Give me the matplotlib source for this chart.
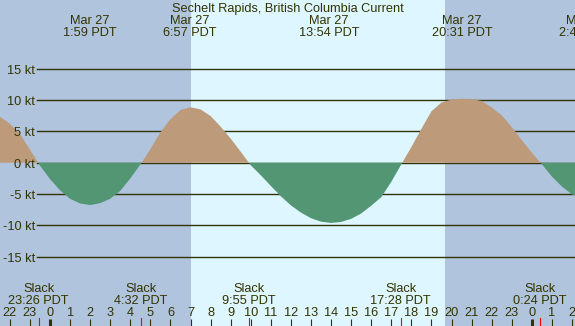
import numpy as np
import matplotlib
matplotlib.use('Agg')
import matplotlib.pyplot as plt
from matplotlib.transforms import blended_transform_factory

plt.rcParams['font.family'] = ['Liberation Sans', 'DejaVu Sans']

# hours after midnight Mar 27 (PDT), read every half hour
hours = [-3.0, -2.5, -2.0, -1.5, -1.0, -0.5, 0.0, 0.5, 1.0, 1.5,
         2.0, 2.5, 3.0, 3.5, 4.0, 4.5, 5.0, 5.5, 6.0, 6.5,
         7.0, 7.5, 8.0, 8.5, 9.0, 9.5, 10.0, 10.5, 11.0, 11.5,
         12.0, 12.5, 13.0, 13.5, 14.0, 14.5, 15.0, 15.5, 16.0, 16.5,
         17.0, 17.5, 18.0, 18.5, 19.0, 19.5, 20.0, 20.5, 21.0, 21.5,
         22.0, 22.5, 23.0, 23.5, 24.0, 24.5, 25.0, 25.5, 26.0, 26.5]
# current speed in knots (+ flood, - ebb)
speed = [8.2, 7.35, 6.2, 4.6, 2.1, -0.45, -2.6, -4.4, -5.75, -6.5,
         -6.75, -6.45, -5.75, -4.5, -2.5, -0.3, 2.15, 4.85, 6.95, 8.4,
         8.84, 8.5, 7.45, 5.75, 3.85, 1.75, -0.4, -2.0, -3.7, -5.35,
         -6.8, -7.95, -8.85, -9.4, -9.6, -9.45, -8.95, -8.1, -6.85, -5.5,
         -3.05, -0.25, 2.5, 5.4, 8.2, 9.6, 10.08, 10.2, 10.15, 9.85,
         8.8, 7.55, 5.7, 3.6, 1.6, -0.25, -2.2, -3.8, -5.05, -5.8]

max_times = [1.983, 6.95, 13.9, 20.517, 26.7]
max_dates = ['Mar 27', 'Mar 27', 'Mar 27', 'Mar 27', 'Mar 28']
max_labels = ['1:59 PDT', '6:57 PDT', '13:54 PDT', '20:31 PDT', '2:42 PDT']

slack_times = [-0.567, 4.533, 9.917, 17.467, 24.4]
slack_labels = ['23:26 PDT', '4:32 PDT', '9:55 PDT', '17:28 PDT', '0:24 PDT']

sunrise, sunset = 7.02, 19.67
grid_levels = [-15, -10, -5, 0, 5, 10, 15]
hour_ticks = list(range(-2, 27))

title = 'Sechelt Rapids, British Columbia Current'

night = '#B0C4DE'
day = '#DDF6FF'
flood = '#BC9A7A'
ebb = '#529673'
ink = '#333300'
fs = 9.2

W, H = 575, 326
fig = plt.figure(figsize=(W / 100, H / 100), dpi=100)
fig.patch.set_facecolor(night)
ax = fig.add_axes([0, 0, 1, 1])
ax.axis('off')
ax.set_xlim(-2.49, 26.15)
ax.set_ylim(-26.04, 25.95)


def fy(py):
    # pixel row from top -> axes fraction
    return 1 - py / H


trans = blended_transform_factory(ax.transData, ax.transAxes)

ax.axvspan(sunrise, sunset, color=day, zorder=0, lw=0)

for lv in grid_levels:
    ax.axhline(lv, xmin=37 / W, xmax=1, color=ink, lw=1.0, zorder=1)
    ax.text(35 / W, fy(163 - lv * 6.27 + 4.7), '%d kt' % lv, transform=ax.transAxes,
            ha='right', va='baseline', fontsize=fs, color=ink, zorder=5)

t = np.array(hours)
v = np.array(speed)
ax.fill_between(t, v, 0, where=v >= 0, interpolate=True, color=flood, lw=0, zorder=2)
ax.fill_between(t, v, 0, where=v <= 0, interpolate=True, color=ebb, lw=0, zorder=2)

ax.text(0.5, fy(12), title, transform=ax.transAxes, ha='center', va='baseline',
        fontsize=fs, color=ink)
for tm, d, lab in zip(max_times, max_dates, max_labels):
    ax.text(tm, fy(24), d, transform=trans, ha='center', va='baseline', fontsize=fs, color=ink)
    ax.text(tm, fy(36), lab, transform=trans, ha='center', va='baseline', fontsize=fs, color=ink)

for tm, lab in zip(slack_times, slack_labels):
    ax.text(tm, fy(292.5), 'Slack', transform=trans, ha='center', va='baseline', fontsize=fs, color=ink)
    ax.text(tm, fy(304.5), lab, transform=trans, ha='center', va='baseline', fontsize=fs, color=ink)
    ax.plot([tm, tm], [fy(318), fy(326)], transform=trans, color='red', lw=0.8, zorder=4)

for hr in hour_ticks:
    ax.text(hr, fy(316), str(hr % 24), transform=trans, ha='center', va='baseline',
            fontsize=fs, color=ink)
    lw = 2.2 if hr % 24 == 0 else 0.8
    ax.plot([hr, hr], [fy(319), fy(326)], transform=trans, color=ink, lw=lw, zorder=4,
            solid_capstyle='butt')

fig.savefig('out.png', dpi=100, facecolor=night)
